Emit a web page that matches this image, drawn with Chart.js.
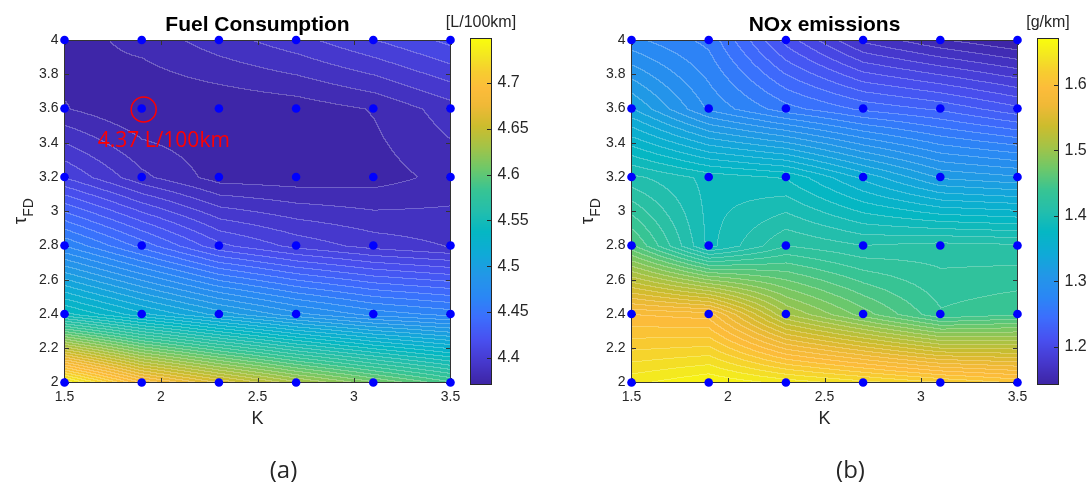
<!DOCTYPE html>
<html>
<head>
<meta charset="utf-8">
<script src="https://cdn.jsdelivr.net/npm/chart.js@4/dist/chart.umd.min.js"></script>
<style>
  body { margin: 0; background: #fff; width: 1091px; height: 487px; overflow: hidden; position: relative; }
  canvas { position: absolute; top: 0; }
</style>
</head>
<body>
<canvas id="fuel" width="567" height="487" style="left:0"></canvas>
<canvas id="nox" width="524" height="487" style="left:567px"></canvas>
<script>
// grid of the simulated points
var kValues = [1.5, 1.9, 2.3, 2.7, 3.1, 3.5];
var tauValues = [2.0, 2.4, 2.8, 3.2, 3.6, 4.0];

// fuel consumption [L/100km], one row per tau (2.0 -> 4.0), columns follow kValues
var fuelValues = [
    [4.747, 4.695, 4.665, 4.638, 4.615, 4.592],
    [4.548, 4.525, 4.505, 4.488, 4.475, 4.468],
    [4.470, 4.445, 4.420, 4.408, 4.400, 4.395],
    [4.410, 4.390, 4.377, 4.376, 4.377, 4.383],
    [4.381, 4.373, 4.374, 4.376, 4.381, 4.392],
    [4.377, 4.383, 4.392, 4.400, 4.410, 4.420]
];

// NOx emissions [g/km], same layout
var noxValues = [
    [1.655, 1.668, 1.655, 1.642, 1.628, 1.615],
    [1.595, 1.590, 1.512, 1.475, 1.440, 1.448],
    [1.462, 1.393, 1.428, 1.418, 1.422, 1.420],
    [1.410, 1.393, 1.385, 1.352, 1.322, 1.315],
    [1.335, 1.290, 1.265, 1.248, 1.238, 1.222],
    [1.285, 1.268, 1.215, 1.175, 1.158, 1.146]
];

var fuelCbTicks = [4.4, 4.45, 4.5, 4.55, 4.6, 4.65, 4.7];
var noxCbTicks = [1.2, 1.3, 1.4, 1.5, 1.6];

var contourLevels = 50;
var fam = "'Liberation Sans', Arial, sans-serif";
var axisColor = '#262626';

// parula-like colormap stops
var parula = [
    [0.000, 62, 38, 168], [0.060, 70, 56, 205], [0.125, 72, 80, 240], [0.190, 60, 110, 253],
    [0.250, 42, 135, 245], [0.310, 35, 150, 232], [0.375, 15, 170, 215], [0.440, 5, 183, 195],
    [0.500, 35, 190, 172], [0.560, 55, 196, 148], [0.625, 110, 200, 105], [0.690, 165, 195, 70],
    [0.750, 205, 188, 45], [0.810, 240, 185, 55], [0.860, 252, 188, 58], [0.910, 247, 206, 47],
    [0.950, 243, 228, 35], [1.000, 249, 251, 14]
];

function parulaColor(t) {
    t = Math.max(0, Math.min(1, t));
    for (var i = 1; i < parula.length; i++) {
        if (t <= parula[i][0]) {
            var a = parula[i - 1], b = parula[i], f = (t - a[0]) / (b[0] - a[0]);
            return [a[1] + (b[1] - a[1]) * f, a[2] + (b[2] - a[2]) * f, a[3] + (b[3] - a[3]) * f];
        }
    }
    return parula[parula.length - 1].slice(1);
}

function rgb(c) {
    return 'rgb(' + Math.round(c[0]) + ',' + Math.round(c[1]) + ',' + Math.round(c[2]) + ')';
}

function locate(vals, v) {
    var i = 0;
    while (i < vals.length - 2 && v > vals[i + 1]) i++;
    var f = (v - vals[i]) / (vals[i + 1] - vals[i]);
    return [i, Math.max(0, Math.min(1, f))];
}

// bilinear value between the grid points
function sampleGrid(rows, k, tau) {
    var a = locate(kValues, k), b = locate(tauValues, tau);
    var i = a[0], fx = a[1], j = b[0], fy = b[1];
    var low = rows[j][i] * (1 - fx) + rows[j][i + 1] * fx;
    var high = rows[j + 1][i] * (1 - fx) + rows[j + 1][i + 1] * fx;
    return low * (1 - fy) + high * fy;
}

function fmt(v) {
    return String(Math.round(v * 1000) / 1000);
}

var contourPlugin = {
    id: 'contourPanel',
    beforeDatasetsDraw: function (chart, args, o) {
        var ctx = chart.ctx, a = chart.chartArea, xs = chart.scales.x, ys = chart.scales.y;
        var x0 = Math.round(a.left), y0 = Math.round(a.top);
        var w = Math.round(a.right) - x0, h = Math.round(a.bottom) - y0;
        var lo = o.clim[0], hi = o.clim[1], step = (hi - lo) / contourLevels;
        var colors = [];
        for (var l = 0; l < contourLevels; l++) colors.push(parulaColor(l / contourLevels));

        var idx = new Int16Array(w * h);
        var kx = [], ty = [];
        for (var i = 0; i < w; i++) kx.push(xs.getValueForPixel(x0 + i + 0.5));
        for (var j = 0; j < h; j++) ty.push(ys.getValueForPixel(y0 + j + 0.5));
        for (j = 0; j < h; j++) {
            for (i = 0; i < w; i++) {
                var v = sampleGrid(o.values, kx[i], ty[j]);
                var n = Math.floor((v - lo) / step);
                idx[j * w + i] = Math.max(0, Math.min(contourLevels - 1, n));
            }
        }

        var off = document.createElement('canvas');
        off.width = w; off.height = h;
        var octx = off.getContext('2d');
        var img = octx.createImageData(w, h);
        for (j = 0; j < h; j++) {
            for (i = 0; i < w; i++) {
                var p = j * w + i, c = colors[idx[p]];
                var edge = (i > 0 && idx[p - 1] !== idx[p]) || (j > 0 && idx[p - w] !== idx[p]);
                var m = edge ? 0.25 : 0;
                img.data[p * 4] = c[0] + (255 - c[0]) * m;
                img.data[p * 4 + 1] = c[1] + (255 - c[1]) * m;
                img.data[p * 4 + 2] = c[2] + (255 - c[2]) * m;
                img.data[p * 4 + 3] = 255;
            }
        }
        octx.putImageData(img, 0, 0);
        ctx.drawImage(off, x0, y0);

        // axes box with inward ticks on all sides
        var L = Math.floor(a.left) + 0.5, R = Math.floor(a.right) + 0.5;
        var T = Math.floor(a.top) + 0.5, B = Math.floor(a.bottom) + 0.5;
        ctx.save();
        ctx.strokeStyle = '#333';
        ctx.lineWidth = 1;
        ctx.strokeRect(L, T, R - L, B - T);
        ctx.beginPath();
        xs.ticks.forEach(function (tk) {
            var px = Math.round(xs.getPixelForValue(tk.value)) + 0.5;
            ctx.moveTo(px, B); ctx.lineTo(px, B - 4.5);
            ctx.moveTo(px, T); ctx.lineTo(px, T + 4.5);
        });
        ys.ticks.forEach(function (tk) {
            var py = Math.round(ys.getPixelForValue(tk.value)) + 0.5;
            ctx.moveTo(L, py); ctx.lineTo(L + 4.5, py);
            ctx.moveTo(R, py); ctx.lineTo(R - 4.5, py);
        });
        ctx.stroke();
        ctx.restore();
    },
    afterDraw: function (chart, args, o) {
        var ctx = chart.ctx, a = chart.chartArea, cb = chart.scales.y2;
        var xs = chart.scales.x, ys = chart.scales.y;
        var cx = (a.left + a.right) / 2;
        ctx.save();

        // colorbar
        var bl = Math.round(a.right + 19.5), bw = 22;
        var top = Math.round(a.top) - 2, bot = Math.round(a.bottom) + 2;
        for (var py = top; py < bot; py++) {
            var t = (cb.getValueForPixel(py + 0.5) - o.clim[0]) / (o.clim[1] - o.clim[0]);
            ctx.fillStyle = rgb(parulaColor(t));
            ctx.fillRect(bl, py, bw, 1);
        }
        ctx.strokeStyle = axisColor;
        ctx.lineWidth = 1;
        ctx.strokeRect(bl + 0.5, top + 0.5, bw - 1, bot - top - 1);
        ctx.beginPath();
        cb.ticks.forEach(function (tk) {
            var y = Math.round(cb.getPixelForValue(tk.value)) + 0.5;
            ctx.moveTo(bl + bw - 1, y); ctx.lineTo(bl + bw - 5, y);
        });
        ctx.stroke();

        ctx.textAlign = 'center';
        ctx.textBaseline = 'alphabetic';
        ctx.fillStyle = axisColor;
        ctx.font = '16px ' + fam;
        ctx.fillText(o.unit, bl + bw / 2, 27);

        ctx.fillStyle = '#000';
        ctx.font = 'bold 21px ' + fam;
        ctx.fillText(o.title, cx, 31);

        ctx.fillStyle = '#262626';
        ctx.font = '24px "Open Sans", sans-serif';
        ctx.textBaseline = 'middle';
        ctx.fillText(o.panel, cx + 26, 471);

        // tau_FD axis label
        ctx.save();
        ctx.translate(a.left - 38.5, (a.top + a.bottom) / 2);
        ctx.rotate(-Math.PI / 2);
        ctx.textAlign = 'left';
        ctx.textBaseline = 'alphabetic';
        ctx.fillStyle = axisColor;
        ctx.font = '19px ' + fam;
        var wT = ctx.measureText('\u03C4').width;
        ctx.font = '14px ' + fam;
        var wS = ctx.measureText('FD').width;
        var sx = -(wT + wS) / 2;
        ctx.font = '19px ' + fam;
        ctx.fillText('\u03C4', sx, 0);
        ctx.font = '14px ' + fam;
        ctx.fillText('FD', sx + wT, 7);
        ctx.restore();

        // mark of the minimum
        if (o.markMin) {
            var px = xs.getPixelForValue(o.markMin.k), pyy = ys.getPixelForValue(o.markMin.tau);
            ctx.strokeStyle = '#ff0000';
            ctx.lineWidth = 1.5;
            ctx.beginPath();
            ctx.arc(px + 2, pyy + 1, 12.5, 0, 2 * Math.PI);
            ctx.stroke();
            ctx.fillStyle = '#ff0000';
            ctx.font = '21px "Open Sans", sans-serif';
            ctx.textAlign = 'left';
            ctx.textBaseline = 'alphabetic';
            ctx.fillText(o.markMin.text, px - 44, pyy + 38);
        }
        ctx.restore();
    }
};

function findMin(rows) {
    var best = {v: Infinity};
    rows.forEach(function (row, j) {
        row.forEach(function (v, i) {
            if (v < best.v) best = {v: v, k: kValues[i], tau: tauValues[j]};
        });
    });
    return best;
}

function makePanel(element, values, cbTicks, rightWidth, texts, markMin) {
    var all = values.flat();
    var clim = [Math.min.apply(null, all), Math.max.apply(null, all)];
    var points = [];
    tauValues.forEach(function (t) {
        kValues.forEach(function (k) { points.push({x: k, y: t}); });
    });
    var tickFont = {family: fam, size: 14};
    new Chart(document.getElementById(element), {
        type: 'scatter',
        data: {
            datasets: [{
                data: points,
                pointRadius: 4.3,
                pointHoverRadius: 4.3,
                backgroundColor: '#0000ff',
                borderWidth: 0,
                clip: false
            }]
        },
        options: {
            responsive: false,
            animation: false,
            devicePixelRatio: 1,
            events: [],
            layout: {padding: {top: 40, bottom: 57, left: 0, right: 0}},
            plugins: {
                legend: {display: false},
                tooltip: {enabled: false},
                contourPanel: {
                    values: values, clim: clim, title: texts.title, unit: texts.unit,
                    panel: texts.panel, markMin: markMin
                }
            },
            scales: {
                x: {
                    type: 'linear', position: 'bottom', min: 1.5, max: 3.5,
                    grid: {display: false, drawTicks: false}, border: {display: false},
                    ticks: {stepSize: 0.5, padding: 6, maxRotation: 0, color: axisColor, font: tickFont, callback: fmt},
                    title: {display: true, text: 'K', color: axisColor, font: {family: fam, size: 18}, padding: 0},
                    afterFit: function (s) { s.height = 47.5; }
                },
                y: {
                    type: 'linear', position: 'left', min: 2, max: 4,
                    grid: {display: false, drawTicks: false}, border: {display: false},
                    ticks: {stepSize: 0.2, padding: 6, color: axisColor, font: tickFont, callback: fmt},
                    afterFit: function (s) { s.width = 64.5; }
                },
                y2: {
                    type: 'linear', position: 'right', min: clim[0], max: clim[1],
                    grid: {display: false, drawTicks: true, tickLength: 47}, border: {display: false},
                    ticks: {padding: 0, color: axisColor, font: {family: fam, size: 16}, callback: fmt},
                    afterBuildTicks: function (s) {
                        s.ticks = cbTicks.map(function (v) { return {value: v}; });
                    },
                    afterFit: function (s) { s.width = rightWidth; }
                }
            }
        },
        plugins: [contourPlugin]
    });
}

var fuelMin = findMin(fuelValues);
fuelMin.text = fuelMin.v.toFixed(2) + ' L/100km';

makePanel('fuel', fuelValues, fuelCbTicks, 116.5,
    {title: 'Fuel Consumption', unit: '[L/100km]', panel: '(a)'}, fuelMin);
makePanel('nox', noxValues, noxCbTicks, 73.5,
    {title: 'NOx emissions', unit: '[g/km]', panel: '(b)'}, null);
</script>
</body>
</html>
